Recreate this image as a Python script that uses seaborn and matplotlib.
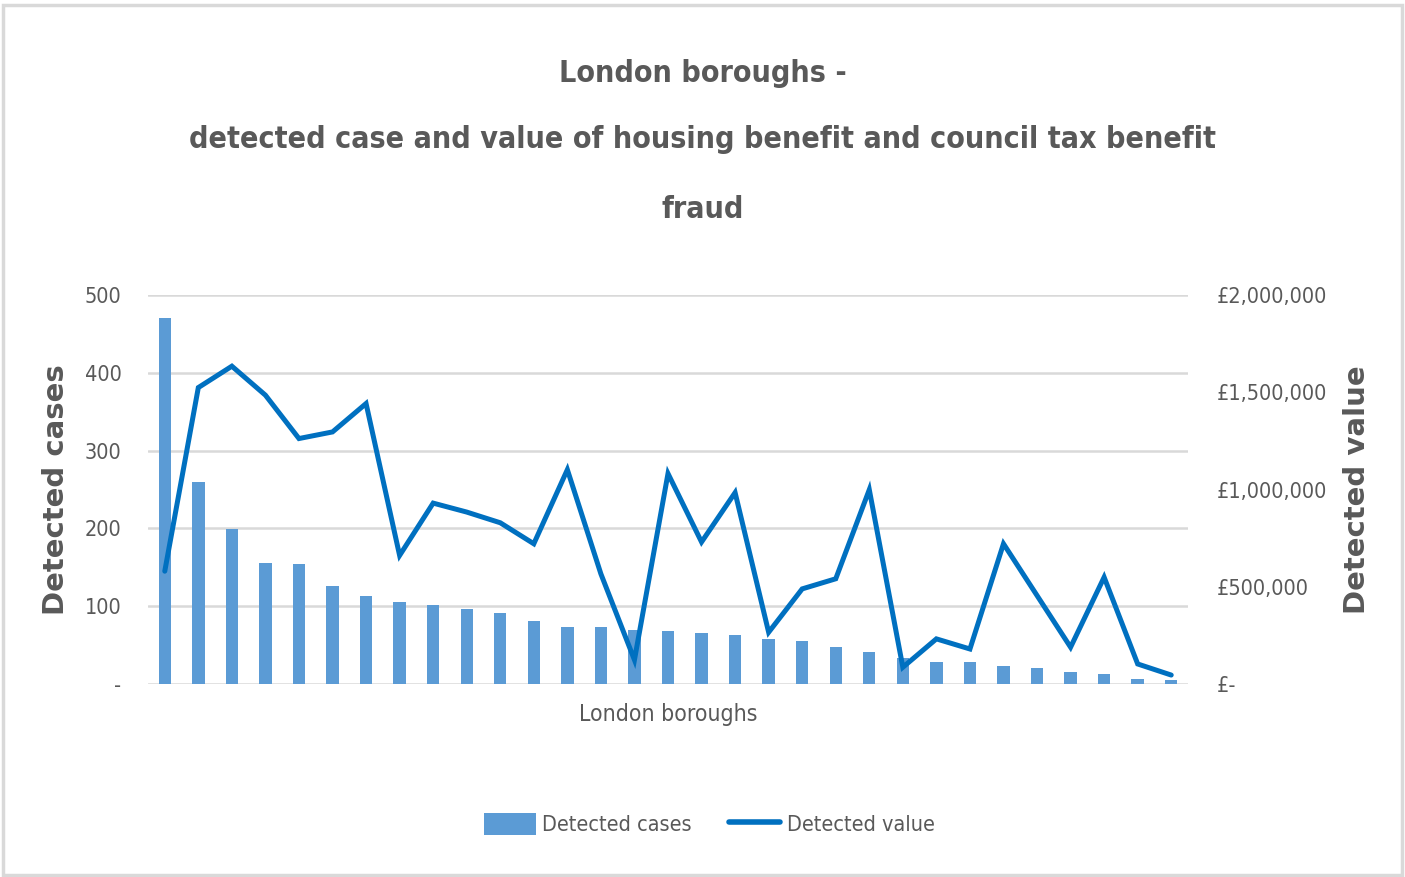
import numpy as np
import pandas as pd
import matplotlib
matplotlib.use("Agg")
import matplotlib.pyplot as plt
from matplotlib.patches import Rectangle, Patch
from matplotlib.lines import Line2D
from matplotlib.ticker import FuncFormatter
import seaborn as sns

# ---------------- data ----------------
boroughs = [f"Borough {i:02d}" for i in range(1, 32)]
detected_cases = [470, 259, 199, 156, 154, 126, 113, 106, 101, 96, 91, 81, 73, 73, 70,
                  68, 66, 63, 58, 55, 48, 41, 33, 28, 28, 23, 20, 15, 13, 6, 5]
detected_value = [580000, 1524000, 1634000, 1485000, 1262000, 1296000, 1442000, 661000,
                  930000, 884000, 829000, 721000, 1102000, 566000, 124000, 1082000,
                  730000, 984000, 266000, 489000, 541000, 999000, 86000, 232000, 180000,
                  721000, 455000, 189000, 549000, 103000, 46000]
left_ticks = [0, 100, 200, 300, 400, 500]
right_ticks = [0, 500000, 1000000, 1500000, 2000000]

title_lines = ["London boroughs -",
               "detected case and value of housing benefit and council tax benefit",
               "fraud"]

df = pd.DataFrame({"borough": boroughs, "cases": detected_cases, "value": detected_value})
df["pos"] = np.arange(len(df))

# ---------------- style ----------------
sns.set_theme(style="white")
plt.rcParams["font.family"] = ["DejaVu Sans"]
plt.rcParams["font.stretch"] = "condensed"
GRAY = "#595959"
BAR = "#5b9bd5"
LINE = "#0070c0"
W, H = 1405, 877

fig = plt.figure(figsize=(14.05, 8.77), dpi=100)
ax = fig.add_axes([148 / W, 1 - 684 / H, (1188 - 148) / W, (684 - 295) / H])

sns.barplot(data=df, x="borough", y="cases", color=BAR, width=0.37, ax=ax,
            saturation=1, edgecolor="none")
ax.set_ylim(0, 500)
ax.set_xlim(-0.5, len(df) - 0.5)
ax.set_yticks(left_ticks)
ax.yaxis.set_major_formatter(FuncFormatter(lambda v, p: "-" if v == 0 else f"{int(v)}"))
ax.set_xticks([])
ax.grid(axis="y", color="#d9d9d9", linewidth=1.8)
ax.set_axisbelow(True)
for s in ax.spines.values():
    s.set_visible(False)
ax.tick_params(axis="y", length=0, pad=19, labelsize=15.5, labelcolor=GRAY)
ax.set_xlabel("London boroughs", fontsize=16.5, color=GRAY, labelpad=14)
ax.set_ylabel("Detected cases", fontsize=21, color=GRAY, fontweight="bold",
              fontstretch="normal")
ax.yaxis.set_label_coords((56 - 148) / 1040, 0.5)
ax.yaxis.label.set_va("center")

ax2 = ax.twinx()
sns.lineplot(data=df, x="pos", y="value", color=LINE, linewidth=3.6, ax=ax2,
             solid_joinstyle="miter")
ax2.set_ylim(0, 2000000)
ax2.set_xlim(-0.5, len(df) - 0.5)
ax2.set_yticks(right_ticks)
ax2.yaxis.set_major_formatter(FuncFormatter(lambda v, p: "£-" if v == 0 else f"£{int(v):,}"))
ax2.tick_params(axis="y", length=0, pad=21, labelsize=15.5, labelcolor=GRAY)
for s in ax2.spines.values():
    s.set_visible(False)
ax2.grid(False)
ax2.set_xlabel("")
ax2.set_ylabel("Detected value", fontsize=21, color=GRAY, fontweight="bold",
               fontstretch="normal")
ax2.yaxis.set_label_coords((1357 - 148) / 1040, 0.5)
ax2.yaxis.label.set_va("center")

# title
for txt, y in zip(title_lines, [73, 140, 210]):
    fig.text(0.5, 1 - y / H, txt, ha="center", va="center", fontsize=21.8,
             color=GRAY, fontweight="bold")

# legend
handles = [Patch(facecolor=BAR, edgecolor="none"),
           Line2D([0], [0], color=LINE, linewidth=4)]
fig.legend(handles, ["Detected cases", "Detected value"], loc="center",
           bbox_to_anchor=(0.505, 1 - 824 / H), ncol=2, frameon=False,
           fontsize=15.5, labelcolor=GRAY, handlelength=2.4, handleheight=1.2,
           handletextpad=0.3, columnspacing=1.7)

# chart border
fig.patches.append(Rectangle((3 / W, 2 / H), 1399 / W, 870 / H,
                             transform=fig.transFigure, fill=False,
                             edgecolor="#d9d9d9", linewidth=2.5))

fig.savefig("out.png", dpi=100, facecolor="white")
